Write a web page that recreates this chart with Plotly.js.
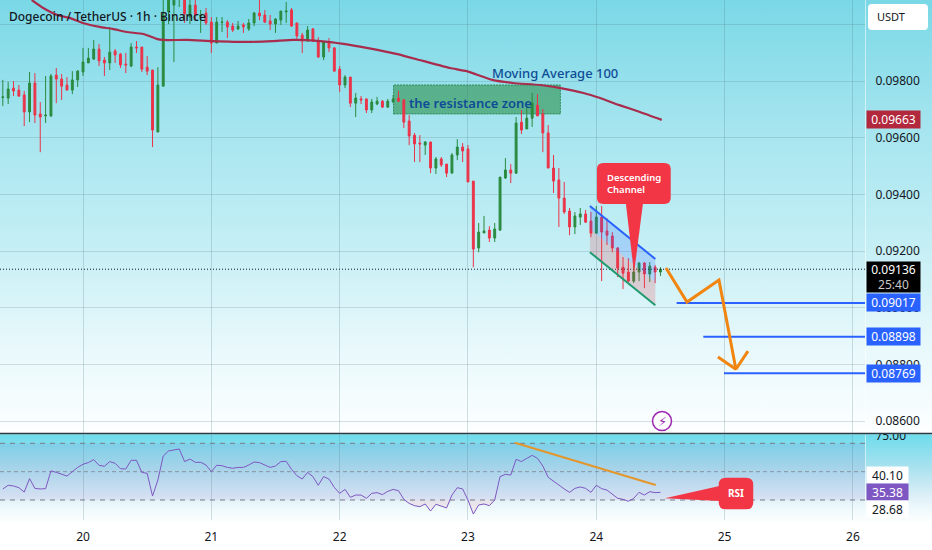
<!DOCTYPE html>
<html><head><meta charset="utf-8">
<script src="https://cdn.plot.ly/plotly-3.0.1.min.js"></script>
<style>
html,body{margin:0;padding:0;width:932px;height:550px;overflow:hidden;
background:linear-gradient(180deg,#7ad8e6 0px,#a6e5ef 130px,#c6eff5 250px,#e6f8fb 340px,#fbfeff 425px,#ffffff 433px,#6fdcec 435px,#aee2ef 470px,#dff0f8 497px,#f0fafc 510px,#ffffff 524px);}
#chart{position:absolute;left:0;top:0;width:932px;height:550px;}
</style></head><body><div id="chart"></div>
<script>
// Prices are written in units of 0.00001 USDT
const opens=[9742,9740,9775,9768,9751,9691,9793,9684,9677,9677,9821,9807,9786,9768,9804,9832,9864,9878,9913,9874,9864,9906,9895,9860,9853,9920,9920,9849,9839,9620,9782,10044,10068,10097,10093,10026,10068,10030,10040,10008,9934,10007,10008,9994,9984,9998,9984,10005,10040,10033,10012,10001,10015,10044,10051,10005,9962,9941,9984,9941,9885,9938,9917,9842,9786,9814,9722,9737,9737,9698,9719,9729,9708,9726,9740,9733,9659,9609,9581,9574,9585,9493,9525,9507,9475,9539,9567,9560,9447,9211,9264,9274,9246,9274,9458,9486,9475,9655,9631,9669,9715,9684,9617,9493,9451,9387,9341,9285,9320,9331,9306,9263,9320,9271,9253,9211,9143,9126,9094,9126,9158,9119,9143,9126];
const highs=[9804,9797,9800,9786,9765,9832,9828,9726,9818,9825,9846,9825,9814,9835,9839,9917,9917,9945,9931,9885,9991,9913,9899,9899,9934,9941,9920,9888,9839,9849,10121,10150,10121,10125,10104,10086,10086,10051,10058,10026,10026,10026,10015,10005,10012,10005,10019,10044,10097,10051,10033,10022,10047,10079,10058,10005,9970,9994,9987,9955,9941,9952,9920,9853,9821,9814,9758,9747,9737,9737,9744,9733,9737,9751,9765,9737,9680,9617,9609,9588,9585,9532,9532,9507,9546,9595,9581,9574,9447,9299,9324,9288,9299,9461,9528,9507,9673,9698,9708,9758,9754,9701,9645,9539,9493,9444,9352,9338,9352,9345,9338,9359,9359,9316,9267,9214,9179,9175,9151,9161,9161,9161,9151,9143];
const lows=[9712,9719,9747,9744,9641,9655,9652,9549,9652,9673,9722,9733,9768,9754,9779,9818,9864,9874,9853,9818,9839,9864,9846,9828,9849,9899,9832,9821,9567,9620,9782,10001,9867,10061,10005,10001,10015,9970,9998,9899,9934,9973,9952,9973,9980,9970,9977,9994,10015,10005,9980,9970,9998,10005,9991,9948,9899,9938,9938,9881,9874,9902,9835,9761,9775,9708,9673,9719,9687,9687,9715,9705,9705,9722,9726,9634,9574,9514,9514,9539,9475,9472,9497,9461,9475,9521,9514,9444,9143,9196,9264,9232,9232,9271,9454,9440,9472,9613,9631,9638,9677,9549,9493,9405,9285,9331,9256,9260,9292,9299,9249,9263,9094,9221,9196,9108,9066,9091,9087,9094,9069,9091,9087,9112];
const closes=[9744,9772,9765,9747,9691,9793,9680,9673,9680,9818,9807,9782,9768,9804,9835,9867,9881,9913,9871,9864,9902,9892,9857,9857,9920,9917,9842,9835,9627,9786,10033,10139,10104,10121,10037,10068,10033,10033,10005,9934,10008,10008,9991,9980,9994,9991,10005,10040,10030,10008,10001,10019,10047,10047,9994,9959,9941,9980,9941,9885,9938,9917,9835,9786,9814,9722,9740,9733,9698,9726,9729,9708,9729,9737,9729,9655,9606,9578,9578,9585,9493,9525,9504,9475,9539,9567,9553,9444,9207,9267,9271,9246,9278,9461,9486,9475,9652,9627,9669,9722,9677,9617,9493,9447,9387,9338,9285,9324,9331,9302,9263,9320,9267,9256,9211,9140,9122,9094,9126,9158,9119,9147,9126,9136];
const rsi=[37.8,40.4,39.9,38.7,35.6,45.1,38.2,37.8,38,50.5,49.5,48.1,46.9,50,53,55.2,56.4,58.5,54.5,53.8,57.1,55.9,52.1,51.9,58,58,49.5,48.8,32.8,44.1,61,64.6,65.3,66,57.1,58.9,56.6,56.6,54.7,50,54.5,54.2,53,52.4,53,53,54.7,56.8,56.4,54.5,53,54,57.1,57.3,51.6,47.2,44.8,49.5,46.5,40.4,46.5,44.8,38.9,34.7,37.5,31.9,33.5,33.5,31.2,34.7,35.2,33.8,36.1,37.5,36.6,30.5,27.6,26,25.3,27.2,22.2,27,25.8,24.4,33.5,38.7,37.8,30,20.1,26.5,27.2,26,30,46.5,48.1,47.6,58.7,57.1,59.4,61.5,59.4,54,46,43.6,40.6,37.8,35.4,38.2,39.2,38.2,35.4,40.4,38,37,34.2,31.2,30.5,29.1,31.2,35.4,33.5,35.9,35.2,35.38];
const maDays=[19.60,19.69,19.80,19.90,20.00,20.13,20.23,20.34,20.47,20.58,20.62,20.81,21.01,21.28,21.48,21.64,21.85,22.03,22.21,22.45,22.65,22.86,22.99,23.19,23.35,23.56,23.72,23.90,24.03,24.18,24.34,24.51];
const maValues=[10086,10058,10033,10022,10005,9991,9984,9973,9966,9948,9945,9945,9941,9938,9941,9945,9941,9931,9917,9895,9871,9846,9835,9804,9793,9786,9775,9758,9740,9715,9691,9663];
const dayTicks=[20,21,22,23,24,25,26];
const priceTicks=[0.086,0.088,0.09,0.092,0.094,0.096,0.098,0.1];
const priceTickText=['0.08600','0.08800','0.09000','0.09200','0.09400','0.09600','0.09800',''];
const targets=[{v:9017,from:24.626},{v:8898,from:24.834},{v:8769,from:24.995}];
const lastPrice=9136, maLast=9663;

const P=v=>v/1e5, FONT='"Noto Sans",sans-serif';
const hours=opens.map((_,i)=>19.375+i/24);
const XR=[19.353,26.094];
const pxX=p=>p/865, pxY=p=>1-p/520;

function rbox(x0,x1,y0,y1,rx,ry){ // y0<y1
 return `M${x0+rx},${y1} L${x1-rx},${y1} Q${x1},${y1} ${x1},${y1-ry} L${x1},${y0+ry} Q${x1},${y0} ${x1-rx},${y0} L${x0+rx},${y0} Q${x0},${y0} ${x0},${y0+ry} L${x0},${y1-ry} Q${x0},${y1} ${x0+rx},${y1} Z`;
}
const line=(x,y,color,w,extra)=>Object.assign({type:'scatter',mode:'lines',x,y,line:{color,width:w},hoverinfo:'skip',showlegend:false},extra||{});

const traces=[
 {type:'candlestick',x:hours,open:opens.map(P),high:highs.map(P),low:lows.map(P),close:closes.map(P),
  increasing:{line:{color:'#2a8a3e',width:1},fillcolor:'#2a8a3e'},decreasing:{line:{color:'#eb3349',width:1},fillcolor:'#eb3349'},
  whiskerwidth:0,hoverinfo:'skip',showlegend:false,xaxis:'x',yaxis:'y'},
 line(maDays,maValues.map(P),'#a82c4c',2.2,{line:{color:'#a82c4c',width:2.2,shape:'spline',smoothing:0.5}}),
 line(XR,[P(lastPrice),P(lastPrice)],'#131722',1,{line:{color:'#131722',width:1,dash:'1px 2px'}}),
 // channel
 line([23.95,24.46,24.46,23.95],[9359,9172,9091,9278].map(P),'rgba(0,0,0,0)',0,{fill:'toself',fillcolor:'rgba(41,98,255,0.2)'}),
 line([23.95,24.46,24.46,23.95],[9278,9091,9009,9196].map(P),'rgba(0,0,0,0)',0,{fill:'toself',fillcolor:'rgba(242,54,69,0.2)'}),
 line([23.95,24.46],[9359,9172].map(P),'#2962ff',2),
 line([23.95,24.46],[9196,9009].map(P),'#1f9a6e',2),
 // targets
 ...targets.map(t=>line([t.from,XR[1]],[P(t.v),P(t.v)],'#2962ff',2)),
 // orange path
 line([24.543,24.707,24.956,25.088,24.948,null,25.088,25.182],[9140,9020,9098,8783,8826,null,8783,8847].map(v=>v===null?null:P(v)),'#f2850f',3),
 {type:'scatter',mode:'markers',x:[24.512],y:[0.086],marker:{symbol:'circle',size:19,color:'rgba(255,255,255,0.7)',line:{color:'#9c27b0',width:1.5}},hoverinfo:'skip',showlegend:false},
 // RSI
 line(hours,rsi.map(()=>30),'rgba(0,0,0,0)',0,{yaxis:'y2'}),
 line(hours,rsi.map(v=>Math.min(v,30)),'rgba(0,0,0,0)',0,{yaxis:'y2',fill:'tonexty',fillcolor:'rgba(242,54,69,0.08)'}),
 line(hours,rsi,'#7e57c2',1,{yaxis:'y2'}),
 line([23.366,24.463],[70.4,40.6],'#e3962c',2,{yaxis:'y2'}),
];

const shapes=[
 {type:'rect',xref:'paper',yref:'y2',x0:0,x1:1,y0:30,y1:70,fillcolor:'rgba(126,87,194,0.1)',line:{width:0},layer:'below'},
 ...[70,30].map(v=>({type:'line',xref:'paper',yref:'y2',x0:0,x1:1,y0:v,y1:v,line:{color:'#787b86',width:1,dash:'5px 5px'},layer:'below'})),
 {type:'line',xref:'paper',yref:'y2',x0:0,x1:1,y0:50,y1:50,line:{color:'rgba(120,123,134,0.7)',width:1,dash:'4px 3px'},layer:'below'},
 // resistance zone
 {type:'rect',xref:'x',yref:'y',x0:22.42,x1:23.72,y0:P(9684),y1:P(9786),fillcolor:'rgba(58,155,95,0.68)',line:{color:'#2e8b57',width:1,dash:'2px 1px'},layer:'below'},
 // descending channel callout
 {type:'path',xref:'x',yref:'y',path:rbox(24.005,24.58,P(9366),P(9511),0.05,P(22)),fillcolor:'#f23645',line:{width:0},layer:'above'},
 {type:'path',xref:'x',yref:'y',path:`M24.23,${P(9370)} L24.364,${P(9370)} L24.294,${P(9122)} Z`,fillcolor:'#f23645',line:{width:0},layer:'above'},
 // RSI callout
 {type:'path',xref:'x',yref:'y2',path:rbox(24.954,25.223,23.4,45.7,0.055,5),fillcolor:'#f23645',line:{width:0},layer:'above'},
 {type:'path',xref:'x',yref:'y2',path:`M24.96,39.9 L24.96,29.3 L24.535,31.2 Z`,fillcolor:'#f23645',line:{width:0},layer:'above'},
 // price pane separator and pane-top cover for the clipped scale label
 {type:'rect',xref:'paper',yref:'paper',x0:pxX(866),x1:pxX(932),y0:pxY(433),y1:pxY(427.5),fillcolor:'#fdfeff',line:{width:0},layer:'above'},
 {type:'line',xref:'paper',yref:'paper',x0:0,x1:pxX(932),y0:pxY(433.6),y1:pxY(433.6),line:{color:'#2b3a42',width:1.5},layer:'above'},
 // USDT button
 {type:'path',xref:'paper',yref:'paper',path:rbox(pxX(868),pxX(928),pxY(30),pxY(4),pxX(4),4/520),fillcolor:'#ffffff',line:{width:0},layer:'above'},
];

function scaleLabel(price,bg,text,opts){
 return Object.assign({xref:'paper',yref:'y',x:1,y:P(price),xanchor:'left',yanchor:'middle',xshift:1,showarrow:false,text:text||(P(price)).toFixed(5),
  font:{family:FONT,size:12,color:'#ffffff'},bgcolor:bg,width:53,height:17,borderpad:0,align:'center',valign:'middle'},opts||{});
}
function rsiLabel(py,text,bg,col){
 return {xref:'paper',yref:'paper',x:1,y:pxY(py),xanchor:'left',yanchor:'middle',xshift:1,showarrow:false,text,
  font:{family:FONT,size:12,color:col},bgcolor:bg,width:41,height:16,borderpad:0,align:'center',valign:'middle'};
}
const annotations=[
 {xref:'paper',yref:'paper',x:pxX(7),y:pxY(16),xanchor:'left',yanchor:'middle',showarrow:false,text:'Dogecoin / TetherUS · 1h · Binance',font:{family:FONT,size:12,color:'#131722',weight:500}},
 {xref:'x',yref:'y',x:23.016,y:P(9722),xanchor:'center',yanchor:'middle',showarrow:false,text:'the resistance zone',font:{family:FONT,size:13,color:'#0f4c96',weight:600}},
 {xref:'x',yref:'y',x:23.68,y:P(9828),xanchor:'center',yanchor:'middle',showarrow:false,text:'Moving Average 100',font:{family:FONT,size:13,color:'#0f4c96',weight:500}},
 {xref:'x',yref:'y',x:24.294,y:P(9440),xanchor:'center',yanchor:'middle',showarrow:false,align:'left',text:'Descending<br>Channel',font:{family:FONT,size:9.5,color:'#ffffff',weight:600}},
 {xref:'x',yref:'y2',x:25.09,y:35,xanchor:'center',yanchor:'middle',showarrow:false,text:'RSI',font:{family:FONT,size:10,color:'#ffffff',weight:700}},
 {xref:'x',yref:'y',x:24.512,y:0.086,xanchor:'center',yanchor:'middle',showarrow:false,text:'⚡',font:{family:'"DejaVu Sans"',size:13,color:'#9c27b0'}},
 {xref:'paper',yref:'paper',x:pxX(891),y:pxY(17),xanchor:'center',yanchor:'middle',showarrow:false,text:'USDT',font:{family:FONT,size:11,color:'#131722'}},
 scaleLabel(maLast,'#b2283c'),
 scaleLabel(lastPrice,'#000000','0.09136<br><span style="color:#c9c9c9">25:40</span>',{height:30,yshift:-7.5}),
 ...targets.map(t=>scaleLabel(t.v,'#2962ff')),
 rsiLabel(475,'40.10','#ffffff','#131722'),
 rsiLabel(492,'35.38','#7e57c2','#ffffff'),
 rsiLabel(509,'28.68','#ffffff','#131722'),
];

const layout={
 width:932,height:550,margin:{l:0,r:67,t:0,b:30,pad:0},
 paper_bgcolor:'rgba(0,0,0,0)',plot_bgcolor:'rgba(0,0,0,0)',showlegend:false,boxgap:0.5,
 font:{family:FONT,size:12,color:'#131722'},
 xaxis:{type:'linear',range:XR,anchor:'y2',tickmode:'array',tickvals:dayTicks,ticktext:dayTicks.map(String),showgrid:true,gridcolor:'rgba(80,120,130,0.24)',gridwidth:1,zeroline:false,showline:false,ticks:'',ticklabelstandoff:8,tickfont:{family:FONT,size:12,color:'#131722'},rangeslider:{visible:false},fixedrange:true},
 yaxis:{domain:[1-433/520,1],range:[0.08558,0.10086],side:'right',anchor:'x',tickmode:'array',tickvals:priceTicks,ticktext:priceTickText,showgrid:true,gridcolor:'rgba(80,120,130,0.22)',zeroline:false,showline:true,linecolor:'rgba(255,255,255,0.55)',ticks:'',ticklabelstandoff:7,tickfont:{family:FONT,size:12,color:'#131722'},fixedrange:true},
 yaxis2:{domain:[0,1-435/520],range:[15.9,75.86],side:'right',anchor:'x',tickmode:'array',tickvals:[75],ticktext:['75.00'],showgrid:false,zeroline:false,showline:true,linecolor:'rgba(255,255,255,0.55)',ticks:'',ticklabelstandoff:7,tickfont:{family:FONT,size:12,color:'#131722'},fixedrange:true},
 shapes,annotations
};
Plotly.newPlot('chart',traces,layout,{staticPlot:true,displayModeBar:false});
</script></body></html>
